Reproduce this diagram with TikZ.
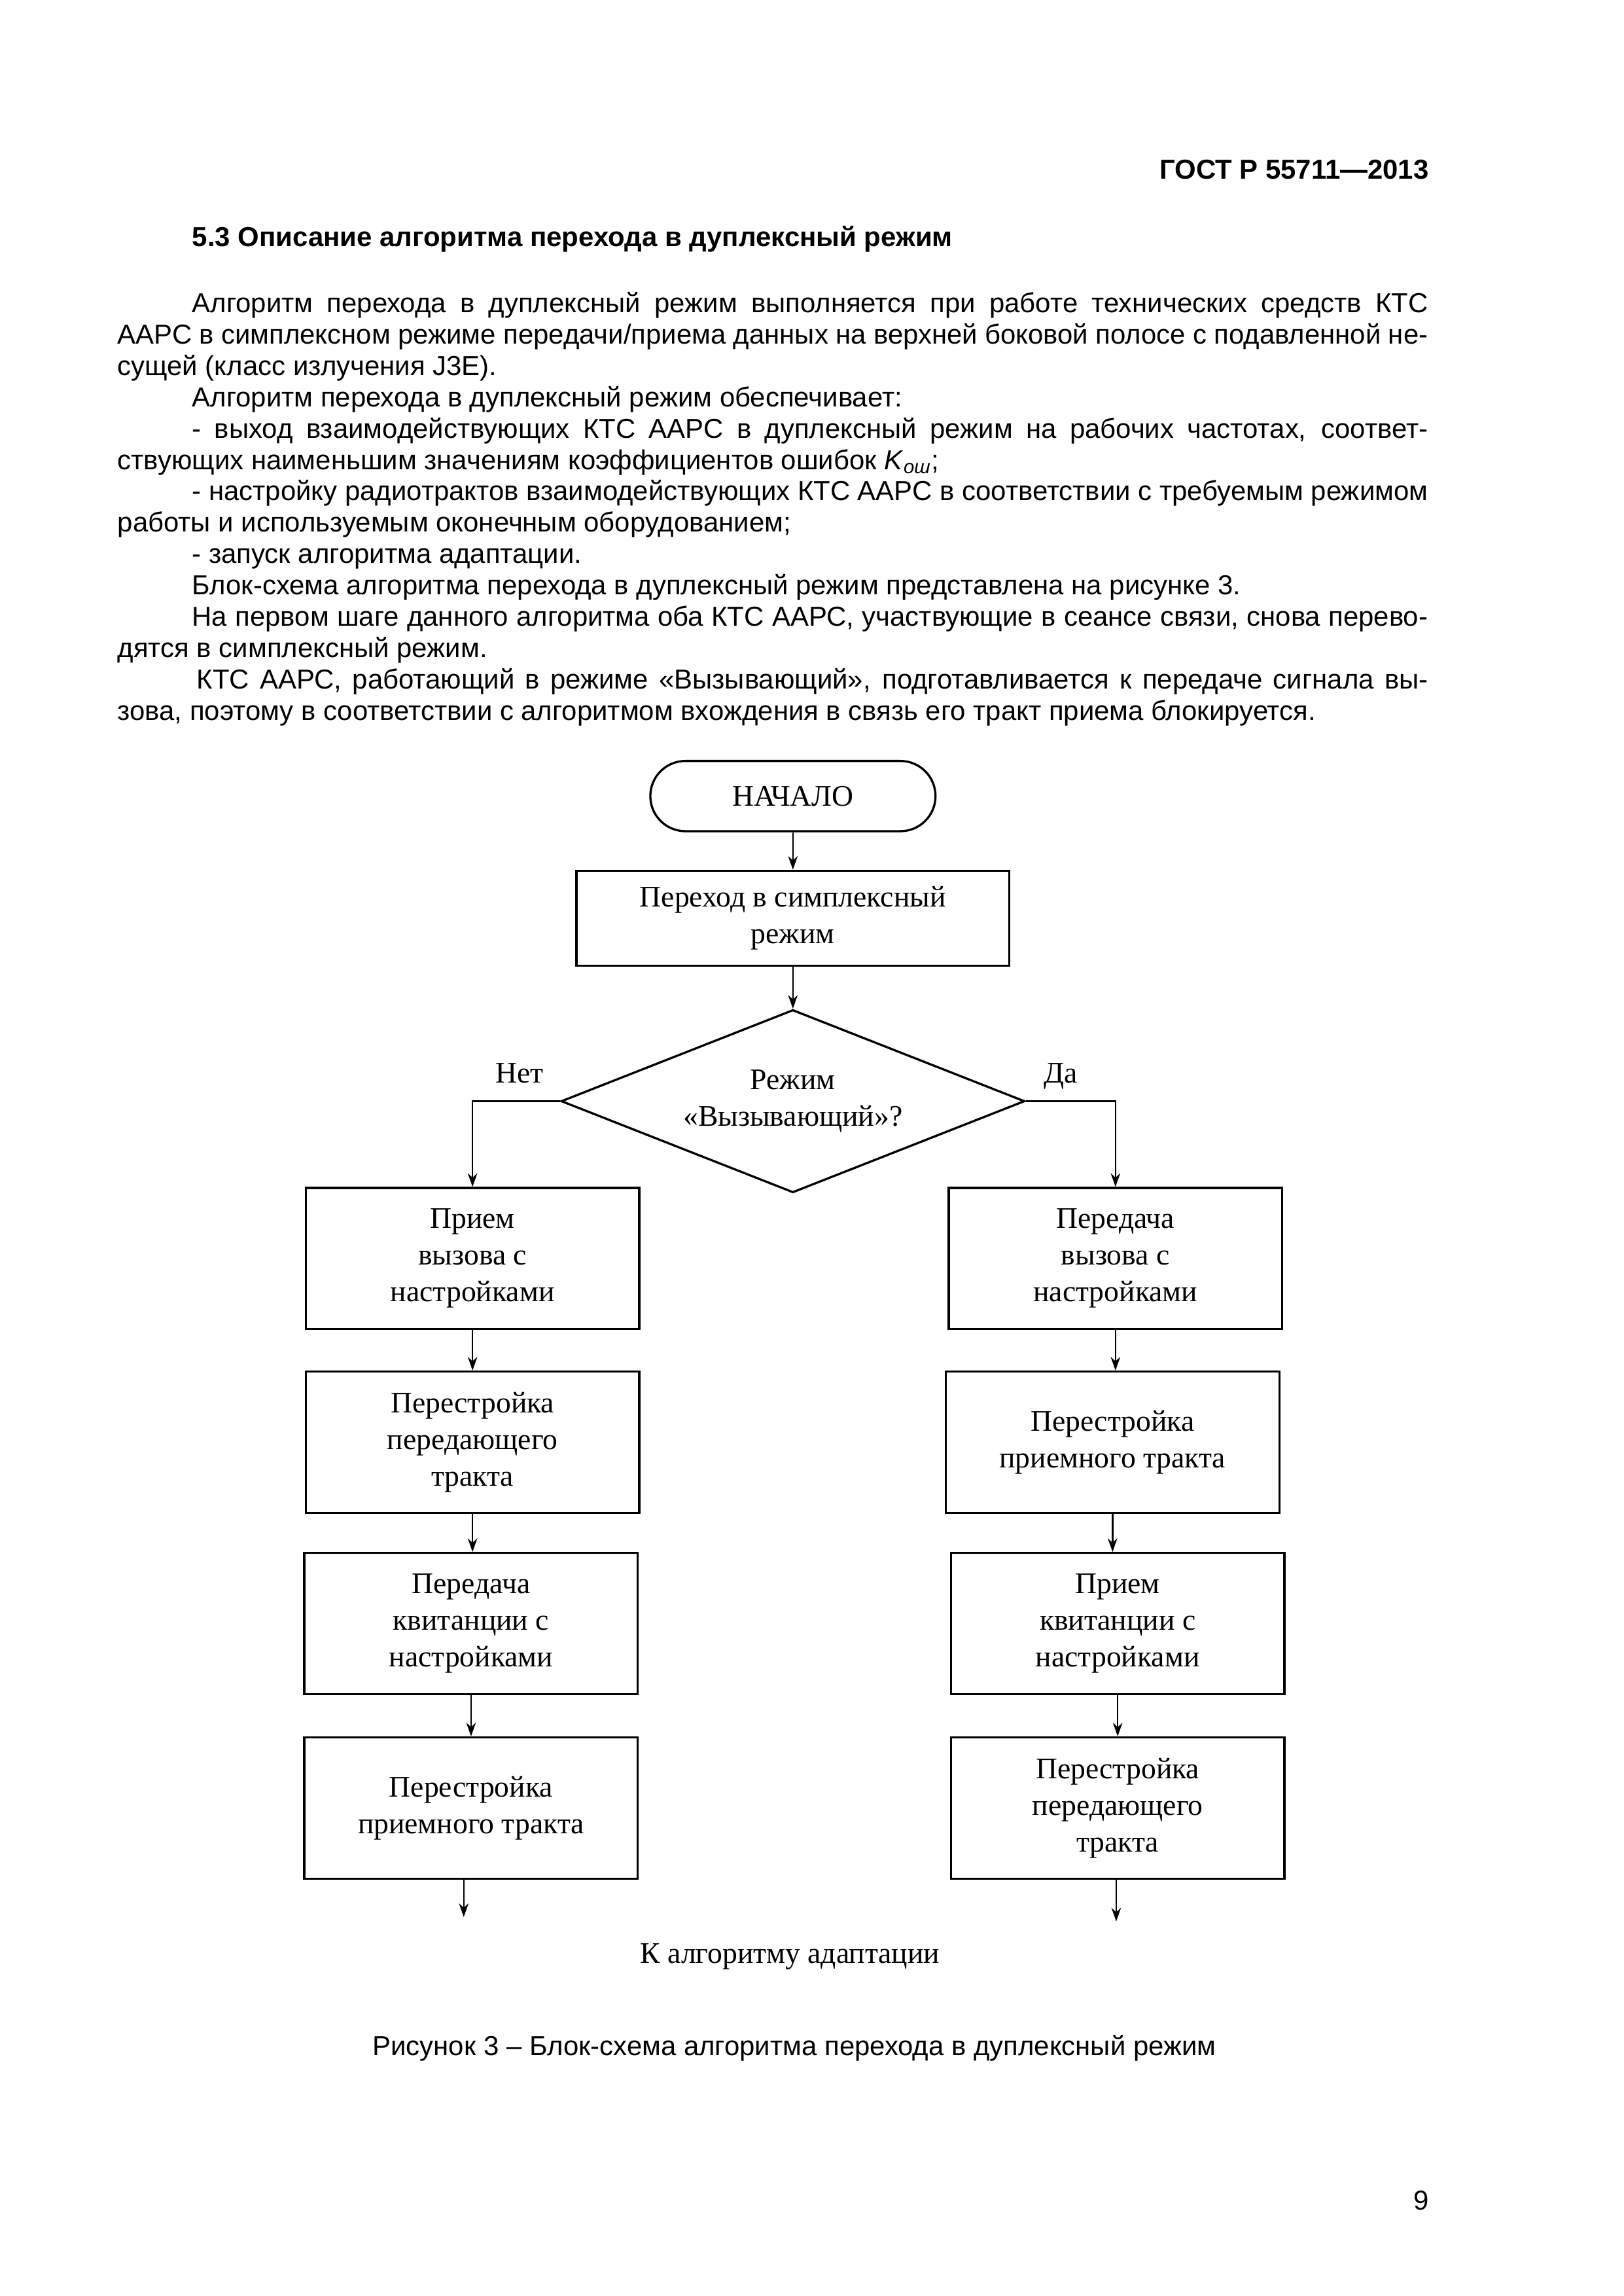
\documentclass[tikz,border=0pt]{standalone}
\usepackage{fontspec}
\setmainfont{Liberation Sans}
\newfontfamily\tnr{Liberation Serif}
\usetikzlibrary{shapes.geometric,arrows.meta}
\begin{document}
\begin{tikzpicture}[x=0.01893cm,y=-0.01893cm,
  ff/.style={font=\tnr\fontsize{11}{13.5}\selectfont},
  blk/.style={ff,draw,line width=0.8pt,minimum width=4.316cm,minimum height=1.827cm,inner sep=0pt,align=center},
  arr/.style={line width=0.6pt,-{Stealth[length=5pt,width=3.5pt]}},
  txt/.style={inner sep=0pt,font=\fontsize{10.1}{11.55}\selectfont}]
\useasboundingbox (0,0) rectangle (1109.7,1569.0);

\node[txt,anchor=base east,font=\bfseries\fontsize{10.1}{12}\selectfont] (hdr) at (977,122.5) {ГОСТ Р 55711—2013};
\node[txt,anchor=base west,font=\bfseries\fontsize{10.1}{12}\selectfont] (sec) at (131,168.5) {5.3 Описание алгоритма перехода в дуплексный режим};

\node[txt,anchor=base west,text width=16.961cm,align=justify] (body) at (80,213.5) {%
\setlength{\parindent}{0.965cm}\tolerance=10000\hyphenpenalty=10000\exhyphenpenalty=10000
\hspace*{0.965cm}Алгоритм перехода в дуплексный режим выполняется при работе технических средств КТС\linebreak
ААРС в симплексном режиме передачи/приема данных на верхней боковой полосе с подавленной не-\linebreak
сущей (класс излучения J3E).\par
Алгоритм перехода в дуплексный режим обеспечивает:\par
- выход взаимодействующих КТС ААРС в дуплексный режим на рабочих частотах, соответ-\linebreak
ствующих наименьшим значениям коэффициентов ошибок \textit{K}\textsubscript{\textit{ош}};\par
- настройку радиотрактов взаимодействующих КТС ААРС в соответствии с требуемым режимом\linebreak
работы и используемым оконечным оборудованием;\par
- запуск алгоритма адаптации.\par
Блок-схема алгоритма перехода в дуплексный режим представлена на рисунке 3.\par
На первом шаге данного алгоритма оба КТС ААРС, участвующие в сеансе связи, снова перево-\linebreak
дятся в симплексный режим.\par
\hspace{0.06cm}КТС ААРС, работающий в режиме «Вызывающий», подготавливается к передаче сигнала вы-\linebreak
зова, поэтому в соответствии с алгоритмом вхождения в связь его тракт приема блокируется.\par}; 

% flowchart
\node[ff,draw,line width=0.8pt,rounded corners=0.454cm,minimum width=3.691cm,minimum height=0.909cm,inner sep=0pt] (start) at (542,544) {НАЧАЛО};
\node[blk,minimum width=5.603cm,minimum height=1.230cm] (b1) at (542,627.5) {Переход в симплексный\\режим};
\node[ff,draw,line width=0.8pt,diamond,aspect=2.5,inner sep=0pt,minimum width=6.001cm,minimum height=2.366cm,align=center] (d) at (542,752.5) {Режим\\«Вызывающий»?};
\node[ff,inner sep=0pt,anchor=base] (no) at (355,740) {Нет};
\node[ff,inner sep=0pt,anchor=base] (yes) at (725,740) {Да};

\node[blk] (L1) at (323,860) {Прием\\вызова с\\настройками};
\node[blk] (R1) at (762.5,860) {Передача\\вызова с\\настройками};
\node[blk] (L2) at (323,985.5) {Перестройка\\передающего\\тракта};
\node[blk] (R2) at (760.5,985.5) {Перестройка\\приемного тракта};
\node[blk] (L3) at (322,1109.5) {Передача\\квитанции с\\настройками};
\node[blk] (R3) at (764,1109.5) {Прием\\квитанции с\\настройками};
\node[blk] (L4) at (322,1235.5) {Перестройка\\приемного тракта};
\node[blk] (R4) at (764,1235.5) {Перестройка\\передающего\\тракта};

\coordinate (Lend) at (317,1310);
\coordinate (Rend) at (763,1313);
\node[ff,inner sep=0pt] (adapt) at (540,1337) {К алгоритму адаптации};

\draw[arr] (start) -- (b1);
\draw[arr] (b1) -- (d);
\draw[arr] (d.west) -| (L1.north);
\draw[arr] (d.east) -| (R1.north);
\draw[arr] (L1) -- (L1 |- L2.north);
\draw[arr] (L2) -- (L2 |- L3.north);
\draw[arr] (L3) -- (L3 |- L4.north);
\draw[arr] (R1) -- (R1 |- R2.north);
\draw[arr] (R2) -- (R2 |- R3.north);
\draw[arr] (R3) -- (R3 |- R4.north);
\draw[arr] (Lend |- L4.south) -- (Lend);
\draw[arr] (Rend |- R4.south) -- (Rend);

\node[txt,anchor=base] (cap) at (543,1404.5) {Рисунок 3 – Блок-схема алгоритма перехода в дуплексный режим};
\node[txt,anchor=base east] (pg) at (977,1510) {9};
\end{tikzpicture}
\end{document}
